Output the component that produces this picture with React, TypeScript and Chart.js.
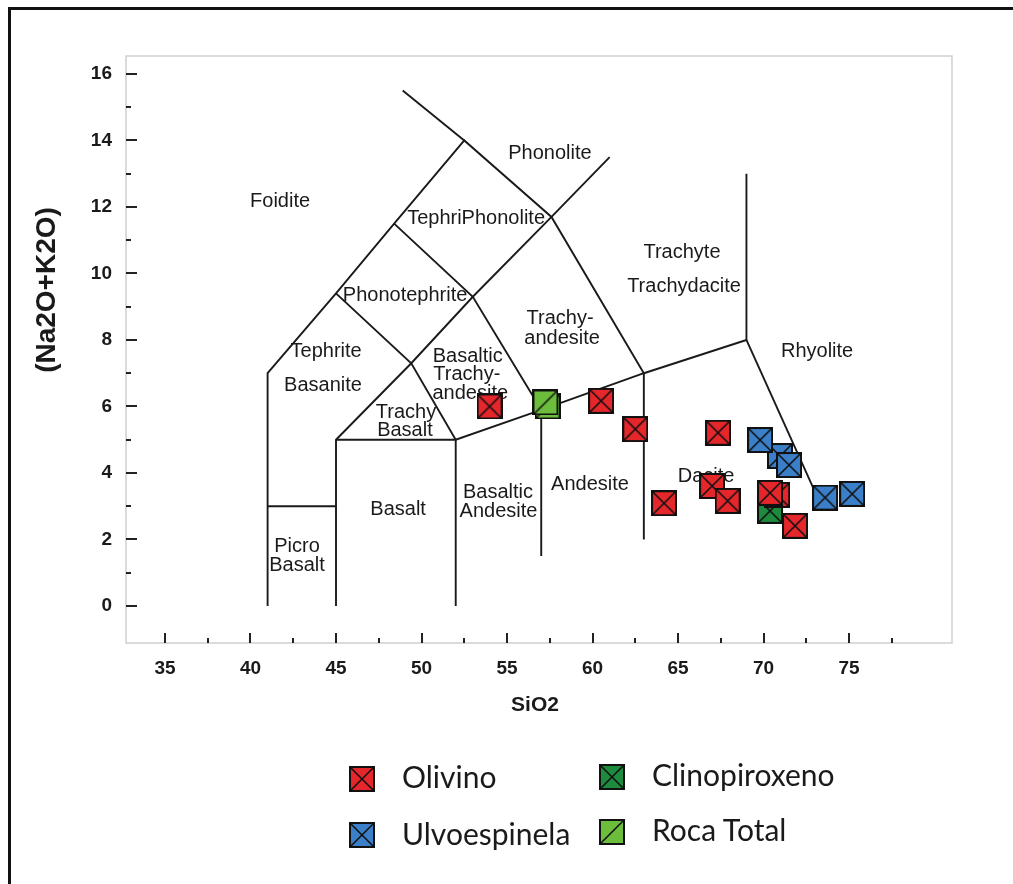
import React, { useEffect, useRef } from "react";
import { Chart, registerables } from "chart.js";

Chart.register(...registerables);

// ---- Data ----
const OLIVINO_SIO2 = [53.98, 60.5, 62.5, 64.18, 67.34, 66.99, 67.9, 70.8, 70.38, 71.84];
const OLIVINO_ALK = [6.0, 6.17, 5.32, 3.09, 5.21, 3.61, 3.16, 3.34, 3.4, 2.41];
const CLINO_SIO2 = [70.38];
const CLINO_ALK = [2.86];
const ULVO_SIO2 = [70.96, 69.8, 71.49, 73.6, 75.18];
const ULVO_ALK = [4.51, 4.99, 4.24, 3.26, 3.37];
const ROCA_SIO2 = [57.37, 57.25];
const ROCA_ALK = [6.0, 6.12];

// TAS field boundaries (SiO2, Na2O+K2O)
const TAS_OUTER = [[41, 0], [41, 7], [45, 9.4], [48.4, 11.5], [52.5, 14], [57.6, 11.7], [63, 7], [63, 2]];
const TAS_PHONOLITE = [[48.9, 15.5], [52.5, 14]];
const TAS_PICRO = [[41, 3], [45, 3]];
const TAS_TRACHY = [[45, 0], [45, 5], [49.4, 7.3], [53, 9.3], [57.6, 11.7], [61, 13.5]];
const TAS_PHONOTEPHRITE = [[45, 9.4], [49.4, 7.3], [52, 5], [52, 0]];
const TAS_BTA = [[48.4, 11.5], [53, 9.3], [57, 5.9], [57, 1.5]];
const TAS_BASE = [[45, 5], [52, 5], [57, 5.9], [63, 7], [69, 8], [69, 13]];
const TAS_RHYOLITE = [[69, 8], [73.3, 3.1]];
const TAS_LINES = [TAS_OUTER, TAS_PHONOLITE, TAS_PICRO, TAS_TRACHY, TAS_PHONOTEPHRITE, TAS_BTA, TAS_BASE, TAS_RHYOLITE];

// Field names and their anchor positions (data units)
const FIELD_NAMES = ["Foidite", "Phonolite", "TephriPhonolite", "Trachyte", "Trachydacite", "Phonotephrite", "Trachy-", "andesite", "Rhyolite", "Tephrite", "Basanite", "Basaltic", "Trachy-", "andesite", "Trachy", "Basalt", "Dacite", "Andesite", "Basaltic", "Andesite", "Basalt", "Picro", "Basalt"];
const FIELD_X = [41.73, 57.51, 53.19, 65.23, 65.35, 49.04, 58.1, 58.22, 73.13, 44.42, 44.24, 52.7, 52.65, 52.85, 49.09, 49.03, 66.64, 59.85, 54.47, 54.5, 48.63, 42.72, 42.72];
const FIELD_Y = [12.15, 13.62, 11.64, 10.62, 9.62, 9.35, 8.66, 8.03, 7.64, 7.64, 6.62, 7.5, 6.95, 6.39, 5.83, 5.29, 3.88, 3.64, 3.4, 2.83, 2.89, 1.8, 1.23];

const X_TICKS = [35, 40, 45, 50, 55, 60, 65, 70, 75];
const X_MINOR = [37.5, 42.5, 47.5, 52.5, 57.5, 62.5, 67.5, 72.5, 77.5];
const Y_TICKS = [0, 2, 4, 6, 8, 10, 12, 14, 16];
const Y_MINOR = [1, 3, 5, 7, 9, 11, 13, 15];

const COLORS = {
  olivino: "#e5262b",
  ulvo: "#3b7fc8",
  clino: "#1d8a3d",
  roca: "#6cbd3c",
};

const SANS = "'Liberation Sans', Arial, sans-serif";

function makeMarker(fill: string, kind: "x" | "slash"): HTMLCanvasElement {
  const c = document.createElement("canvas");
  c.width = 26;
  c.height = 26;
  const g = c.getContext("2d")!;
  g.fillStyle = fill;
  g.fillRect(1, 1, 24, 24);
  g.strokeStyle = "#111";
  g.lineWidth = 2;
  g.strokeRect(1, 1, 24, 24);
  g.lineWidth = 1.6;
  g.beginPath();
  if (kind === "x") {
    g.moveTo(1, 1);
    g.lineTo(25, 25);
    g.moveTo(25, 1);
    g.lineTo(1, 25);
  } else {
    g.moveTo(1, 25);
    g.lineTo(25, 1);
  }
  g.stroke();
  return c;
}

const zip = (xs: number[], ys: number[]) => xs.map((x, i) => ({ x, y: ys[i] }));

const decorPlugin = {
  id: "tasDecor",
  beforeDatasetsDraw(chart: any) {
    const { ctx, chartArea } = chart;
    const sx = chart.scales.x;
    const sy = chart.scales.y;
    ctx.save();
    // plot box
    ctx.strokeStyle = "#cfcfcf";
    ctx.lineWidth = 1.5;
    ctx.strokeRect(chartArea.left, chartArea.top, chartArea.right - chartArea.left, chartArea.bottom - chartArea.top);
    // tick marks (inside)
    ctx.strokeStyle = "#222";
    ctx.lineWidth = 2;
    ctx.beginPath();
    X_TICKS.forEach((v) => {
      const p = Math.round(sx.getPixelForValue(v));
      ctx.moveTo(p, chartArea.bottom);
      ctx.lineTo(p, chartArea.bottom - 10);
    });
    X_MINOR.forEach((v) => {
      const p = Math.round(sx.getPixelForValue(v));
      ctx.moveTo(p, chartArea.bottom);
      ctx.lineTo(p, chartArea.bottom - 5);
    });
    Y_TICKS.forEach((v) => {
      const p = Math.round(sy.getPixelForValue(v));
      ctx.moveTo(chartArea.left, p);
      ctx.lineTo(chartArea.left + 11, p);
    });
    Y_MINOR.forEach((v) => {
      const p = Math.round(sy.getPixelForValue(v));
      ctx.moveTo(chartArea.left, p);
      ctx.lineTo(chartArea.left + 5, p);
    });
    ctx.stroke();
    // field names
    ctx.fillStyle = "#1a1a1a";
    ctx.font = "20px " + SANS;
    ctx.textAlign = "center";
    ctx.textBaseline = "middle";
    FIELD_NAMES.forEach((t, i) => {
      ctx.fillText(t, sx.getPixelForValue(FIELD_X[i]), sy.getPixelForValue(FIELD_Y[i]));
    });
    ctx.restore();
  },
  afterDraw(chart: any) {
    const { ctx, chartArea } = chart;
    ctx.save();
    ctx.fillStyle = "#1a1a1a";
    ctx.textAlign = "center";
    ctx.textBaseline = "middle";
    ctx.font = "bold 21px " + SANS;
    ctx.fillText("SiO2", (chartArea.left + chartArea.right) / 2 - 4, chartArea.bottom + 62);
    ctx.translate(chartArea.left - 79, 290);
    ctx.rotate(-Math.PI / 2);
    ctx.font = "bold 28px " + SANS;
    ctx.fillText("(Na2O+K2O)", 0, 0);
    ctx.restore();
  },
};

function LegendMarker({ fill, kind }: { fill: string; kind: "x" | "slash" }) {
  return (
    <svg width={26} height={26} style={{ display: "block" }}>
      <rect x={1} y={1} width={24} height={24} fill={fill} stroke="#111" strokeWidth={2} />
      {kind === "x" ? (
        <g stroke="#111" strokeWidth={1.6}>
          <line x1={1} y1={1} x2={25} y2={25} />
          <line x1={25} y1={1} x2={1} y2={25} />
        </g>
      ) : (
        <line x1={1} y1={25} x2={25} y2={1} stroke="#111" strokeWidth={1.6} />
      )}
    </svg>
  );
}

const LEGEND_ITEMS = [
  { label: "Olivino", fill: COLORS.olivino, kind: "x" as const, mx: 349, my: 766, tx: 402, base: 788 },
  { label: "Ulvoespinela", fill: COLORS.ulvo, kind: "x" as const, mx: 349, my: 822, tx: 402, base: 845 },
  { label: "Clinopiroxeno", fill: COLORS.clino, kind: "x" as const, mx: 599, my: 764, tx: 652, base: 786 },
  { label: "Roca Total", fill: COLORS.roca, kind: "slash" as const, mx: 599, my: 819, tx: 652, base: 841 },
];

export default function App() {
  const canvasRef = useRef<HTMLCanvasElement | null>(null);

  useEffect(() => {
    document.body.style.margin = "0";
    const canvas = canvasRef.current!;
    const mOl = makeMarker(COLORS.olivino, "x");
    const mUl = makeMarker(COLORS.ulvo, "x");
    const mCl = makeMarker(COLORS.clino, "x");
    const mRo = makeMarker(COLORS.roca, "slash");

    const pointDs = (label: string, data: any[], style: HTMLCanvasElement) => ({
      type: "scatter" as const,
      label,
      data,
      pointStyle: style,
      pointRadius: 12,
      pointHoverRadius: 12,
      showLine: false,
      order: 0,
    });

    const lineSets = TAS_LINES.map((seg, i) => ({
      type: "scatter" as const,
      label: "tas" + i,
      data: seg.map(([x, y]) => ({ x, y })),
      showLine: true,
      borderColor: "#1a1a1a",
      borderWidth: 1.9,
      pointRadius: 0,
      pointHoverRadius: 0,
      fill: false,
      order: 10,
    }));

    const tickFont = { family: SANS, size: 19, weight: "bold" };

    const chart = new Chart(canvas, {
      type: "scatter",
      data: {
        datasets: [
          pointDs("Olivino", zip(OLIVINO_SIO2, OLIVINO_ALK), mOl),
          pointDs("Clinopiroxeno", zip(CLINO_SIO2, CLINO_ALK), mCl),
          pointDs("Ulvoespinela", zip(ULVO_SIO2, ULVO_ALK), mUl),
          pointDs("Roca Total", zip(ROCA_SIO2, ROCA_ALK), mRo),
          ...lineSets,
        ] as any,
      },
      options: {
        responsive: false,
        animation: false,
        devicePixelRatio: 1,
        layout: { padding: { left: 0, top: 56, right: 61, bottom: 161 } },
        plugins: { legend: { display: false }, tooltip: { enabled: false } },
        scales: {
          x: {
            type: "linear",
            min: 32.72,
            max: 81.02,
            afterBuildTicks: (s: any) => {
              s.ticks = X_TICKS.map((v) => ({ value: v }));
            },
            afterFit: (s: any) => {
              s.height = 80;
            },
            grid: { display: false, drawTicks: false },
            border: { display: false },
            ticks: { padding: 14, color: "#1a1a1a", font: tickFont },
          },
          y: {
            type: "linear",
            min: -1.113,
            max: 16.54,
            afterBuildTicks: (s: any) => {
              s.ticks = Y_TICKS.map((v) => ({ value: v }));
            },
            afterFit: (s: any) => {
              s.width = 126;
            },
            grid: { display: false, drawTicks: false },
            border: { display: false },
            ticks: { padding: 14, color: "#1a1a1a", font: tickFont },
          },
        },
      } as any,
      plugins: [decorPlugin],
    });
    return () => chart.destroy();
  }, []);

  return (
    <div style={{ position: "absolute", left: 0, top: 0, width: 1013, height: 884, background: "#fff", overflow: "hidden" }}>
      <div style={{ position: "absolute", left: 8, top: 7, width: 1100, height: 1000, borderTop: "3px solid #111", borderLeft: "3px solid #111" }} />
      <canvas ref={canvasRef} width={1013} height={884} style={{ position: "absolute", left: 0, top: 0 }} />
      {LEGEND_ITEMS.map((it) => (
        <React.Fragment key={it.label}>
          <div style={{ position: "absolute", left: it.mx, top: it.my }}>
            <LegendMarker fill={it.fill} kind={it.kind} />
          </div>
          <div
            style={{
              position: "absolute",
              left: it.tx,
              top: it.base - 29.6,
              fontFamily: "Lato, 'Open Sans', sans-serif",
              fontSize: 30,
              lineHeight: "36px",
              color: "#1a1a1a",
              whiteSpace: "nowrap",
            }}
          >
            {it.label}
          </div>
        </React.Fragment>
      ))}
    </div>
  );
}
